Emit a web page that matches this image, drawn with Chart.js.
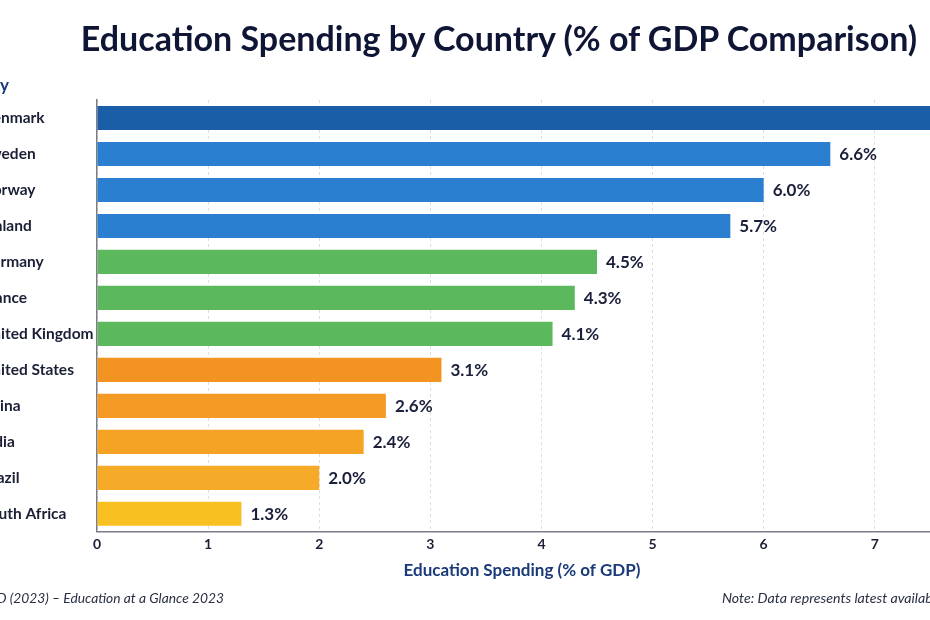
<!DOCTYPE html>
<html>
<head>
<meta charset="utf-8">
<script src="https://cdn.jsdelivr.net/npm/chart.js@4.4.1/dist/chart.umd.min.js"></script>
<style>
  html, body { margin:0; padding:0; background:#ffffff; }
  body { width:930px; height:620px; overflow:hidden; position:relative; font-family: Lato, "Noto Sans", sans-serif; }
  #wrap { position:absolute; left:-30px; top:0; width:1000px; height:620px; }
  .txt { position:absolute; white-space:nowrap; }
  #title { left:0; width:998px; top:15px; text-align:center; font-size:34px; font-weight:700; color:#0f1535; line-height:46px; }
  #ytitle { right:921px; top:75px; font-size:17px; font-weight:700; color:#1a3a7a; line-height:20px; }
  #src { right:706px; top:589px; font-size:13.8px; font-style:italic; color:#2a2f45; line-height:18px; }
  #note { left:722px; top:589px; font-size:14.2px; font-style:italic; color:#2a2f45; line-height:18px; }
</style>
</head>
<body>
<div id="wrap"><canvas id="c"></canvas></div>
<div class="txt" id="title">Education Spending by Country (% of GDP Comparison)</div>
<div class="txt" id="ytitle">Country</div>
<div class="txt" id="src">Source: OECD (2023) – Education at a Glance 2023</div>
<div class="txt" id="note">Note: Data represents latest available data</div>
<script>
const countries = ["Denmark","Sweden","Norway","Finland","Germany","France","United Kingdom","United States","China","India","Brazil","South Africa"];
const spending = [7.6, 6.6, 6.0, 5.7, 4.5, 4.3, 4.1, 3.1, 2.6, 2.4, 2.0, 1.3];
const barColors = ["#1a5ea8","#2a7fd0","#2a7fd0","#2a7fd0","#5cb85c","#5cb85c","#5cb85c","#f39422","#f59b25","#f5a325","#f6ab28","#f9c022"];
const xTicks = [0,1,2,3,4,5,6,7];

const valueLabels = {
  id: 'valueLabels',
  afterDatasetsDraw(chart) {
    const ctx = chart.ctx;
    const meta = chart.getDatasetMeta(0);
    ctx.save();
    ctx.font = 'bold 17px Lato, "Noto Sans", sans-serif';
    ctx.fillStyle = '#1a1f3a';
    ctx.textAlign = 'left';
    ctx.textBaseline = 'middle';
    meta.data.forEach((bar, i) => {
      ctx.fillText(spending[i].toFixed(1) + '%', bar.x + 9, bar.y + 1);
    });
    ctx.restore();
  }
};

new Chart(document.getElementById('c'), {
  type: 'bar',
  data: {
    labels: countries,
    datasets: [{
      data: spending,
      backgroundColor: barColors,
      borderWidth: 0,
      barPercentage: 0.67,
      categoryPercentage: 1.0
    }]
  },
  options: {
    indexAxis: 'y',
    responsive: true,
    maintainAspectRatio: false,
    animation: false,
    layout: { padding: { top: 100, left: 11, right: 23, bottom: 39 } },
    plugins: { legend: { display: false }, tooltip: { enabled: false }, title: { display: false } },
    scales: {
      x: {
        min: 0, max: 7.65,
        afterBuildTicks(scale) { scale.ticks = xTicks.map(v => ({ value: v })); },
        grid: { color: '#dedede', lineWidth: 1, drawTicks: false },
        border: { display: true, color: '#7a7d87', width: 1.5, dash: [3,3] },
        ticks: { padding: 4, color: '#1a1f36', font: { family: 'Lato', size: 14, weight: 'bold' } },
        title: { display: true, text: 'Education Spending (% of GDP)', color: '#1a3a7a', font: { family: 'Lato', size: 17, weight: 'bold' }, padding: { top: 4, bottom: 0 } }
      },
      y: {
        afterFit(scale) { scale.width = 116; },
        grid: { display: false, drawTicks: false },
        border: { display: true, color: '#7a7d87', width: 1.5 },
        ticks: { crossAlign: 'far', padding: 4, color: '#1a1f36', font: { family: 'Lato', size: 15.5, weight: 'bold' } }
      }
    }
  },
  plugins: [valueLabels]
});
</script>
</body>
</html>
